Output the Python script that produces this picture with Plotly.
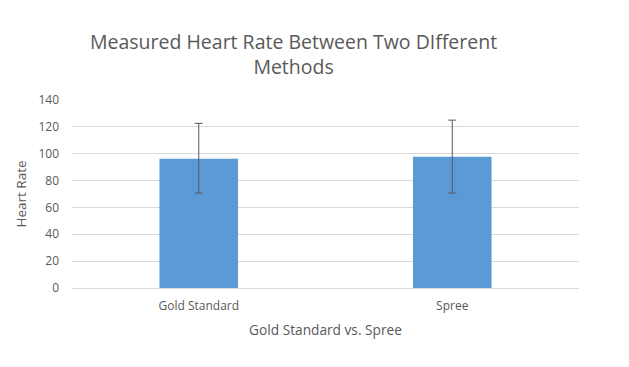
import plotly.graph_objects as go

categories = ["Gold Standard", "Spree"]
values = [96.3, 97.8]
errors = [26.3, 27.2]
error_minus = [25.6, 27.1]

fig = go.Figure()
fig.add_trace(go.Bar(
    x=categories, y=values,
    marker=dict(color="#5b9bd5", line=dict(width=0)),
    width=0.31,
    error_y=dict(type="data", array=errors, arrayminus=error_minus,
                 color="#595959", thickness=1, width=4, visible=True),
))

font = "Open Sans, Segoe UI, sans-serif"
fig.update_layout(
    width=629, height=367,
    paper_bgcolor="white", plot_bgcolor="white",
    margin=dict(l=64, r=58, t=92, b=87, autoexpand=False),
    showlegend=False,
    font=dict(family=font, color="#595959", size=12),
    title=dict(text="Measured Heart Rate Between Two DIfferent<br>Methods",
               x=0.454, xanchor="center", y=0.889, yanchor="top",
               font=dict(family=font, size=19.5, color="#595959")),
    xaxis=dict(title=dict(text="Gold Standard vs. Spree", font=dict(size=13.7), standoff=12),
               showgrid=False, showline=False, ticks="", tickfont=dict(size=12),
               ticklabelstandoff=9),
    yaxis=dict(title=dict(text="Heart Rate", font=dict(size=13.5), standoff=8),
               range=[0, 140], dtick=20, showgrid=True, gridcolor="#d9d9d9",
               zeroline=True, zerolinecolor="#d9d9d9", zerolinewidth=1,
               showline=False, ticks="", tickfont=dict(size=12),
               ticklabelstandoff=12),
)
fig.write_html("out.html")
